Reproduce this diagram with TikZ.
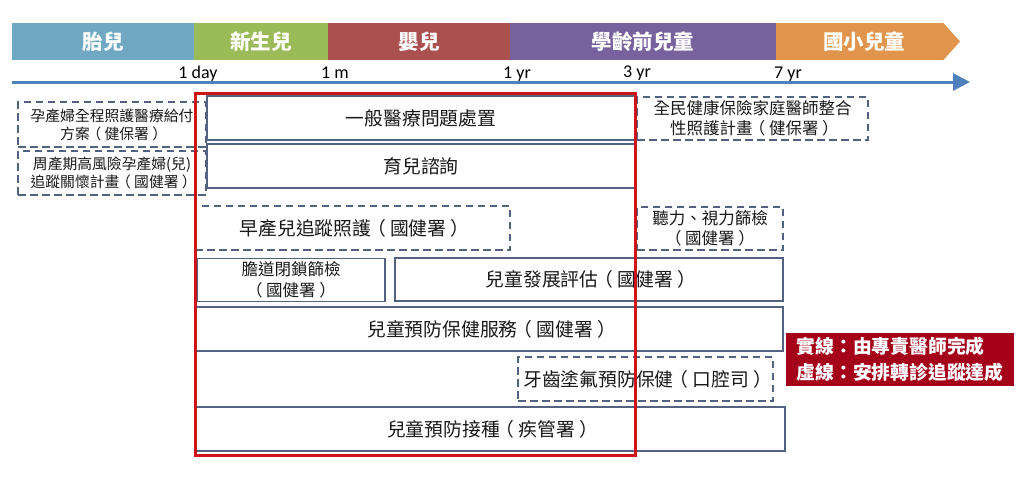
\documentclass[tikz,border=0pt]{standalone}
\usepackage{fontspec}
\setmainfont{Noto Sans CJK TC}
\newfontfamily\latfont{Carlito}
\usetikzlibrary{arrows.meta}
\definecolor{cA}{RGB}{112,168,196}
\definecolor{cB}{RGB}{155,187,89}
\definecolor{cC}{RGB}{170,80,78}
\definecolor{cD}{RGB}{120,98,158}
\definecolor{cE}{RGB}{224,148,76}
\definecolor{axisblue}{RGB}{79,129,189}
\definecolor{boxline}{RGB}{82,98,128}
\definecolor{redline}{RGB}{205,20,25}
\definecolor{legendred}{RGB}{165,0,25}
\definecolor{txt}{RGB}{25,25,25}
% fullwidth parentheses with centred ink
\newcommand\lp{\hbox to 1em{\kern-0.22em（\hss}}
\newcommand\rp{\hbox to 1em{\hss）\kern-0.22em}}
\tikzset{
  bar/.style={inner sep=0pt, text=white, minimum height=37pt, font=\fontsize{20.5}{23}\selectfont\bfseries},
  solidbox/.style={draw=boxline, line width=1.5pt, inner sep=0pt, text=txt, align=center},
  dashbox/.style={solidbox, line width=1.8pt, dash pattern=on 7.5pt off 4.5pt},
  bigtxt/.style={font=\fontsize{18.8}{22}\selectfont},
  smalltxt/.style={font=\fontsize{16.5}{20}\selectfont},
  tinytxt/.style={font=\fontsize{14.8}{18}\selectfont},
  tick/.style={anchor=base, inner sep=0pt, text=black, font=\latfont\fontsize{18}{20}\selectfont},
  axisline/.style={draw=axisblue, line width=3pt, -{Triangle[length=17pt,width=17pt]}},
  redframe/.style={draw=redline, line width=3pt, inner sep=0pt},
  legendbox/.style={fill=legendred, inner sep=0pt, text=white, align=left, font=\fontsize{18.8}{26}\selectfont\bfseries}
}
\begin{document}
\begin{tikzpicture}[x=1pt,y=-1pt]
\useasboundingbox (0,0) rectangle (1024,482);
\fill[white] (0,0) rectangle (1024,482);
% top phase bar
\node[bar, fill=cA, minimum width=182pt] (b1) at (103,41.5) {胎兒};
\node[bar, fill=cB, minimum width=134pt] (b2) at (261,41.5) {新生兒};
\node[bar, fill=cC, minimum width=182pt] (b3) at (419,41.5) {嬰兒};
\node[bar, fill=cD, minimum width=266pt] (b4) at (643,41.5) {學齡前兒童};
\node[bar, fill=cE, minimum width=167pt] (b5) at (859.5,41.5) {};
\coordinate (b5tip) at (960,41.5);
\fill[cE] (b5.north east) -- (b5tip) -- (b5.south east) -- cycle;
\node[bar] (b5t) at (864,41.5) {國小兒童};
% axis
\coordinate (axs) at (12,82);
\coordinate (axe) at (970,82);
\draw[axisline] (axs) -- (axe);
\node[tick] (t1) at (198,78) {1 day};
\node[tick] (t2) at (335,78) {1 m};
\node[tick] (t3) at (517,78) {1 yr};
\node[tick] (t4) at (637,77) {3 yr};
\node[tick] (t5) at (788,78) {7 yr};
% boxes
\node[dashbox, tinytxt, minimum width=188pt, minimum height=45pt] (preg) at (112,124.5) {孕產婦全程照護醫療給付\\方案\lp 健保署\rp};
\node[dashbox, tinytxt, minimum width=188pt, minimum height=44pt] (risk) at (112,173) {周產期高風險孕產婦(兒)\\追蹤關懷計畫\lp 國健署\rp};
\node[solidbox, bigtxt, minimum width=428pt, minimum height=44pt] (gen) at (421,118) {一般醫療問題處置};
\node[solidbox, bigtxt, minimum width=428pt, minimum height=44pt] (care) at (421,166) {育兒諮詢};
\node[dashbox, smalltxt, minimum width=231pt, minimum height=43pt] (fam) at (752.5,118.5) {全民健康保險家庭醫師整合\\性照護計畫\lp 健保署\rp};
\node[dashbox, bigtxt, minimum width=315pt, minimum height=44pt] (pre) at (352.5,228) {早產兒追蹤照護\lp 國健署\rp};
\node[dashbox, smalltxt, minimum width=146pt, minimum height=43pt] (hear) at (710,228.5) {聽力、視力篩檢\\\lp 國健署\rp};
\node[solidbox, smalltxt, minimum width=188pt, minimum height=43pt, font=\fontsize{16.5}{21.5}\selectfont] (bil) at (291,280) {膽道閉鎖篩檢\\\lp 國健署\rp};
\node[solidbox, bigtxt, minimum width=388pt, minimum height=43pt] (dev) at (589,279.5) {兒童發展評估\lp 國健署\rp};
\node[solidbox, bigtxt, minimum width=587pt, minimum height=44pt] (prev) at (489.5,329) {兒童預防保健服務\lp 國健署\rp};
\node[dashbox, bigtxt, minimum width=255pt, minimum height=44pt] (teeth) at (645.5,379) {牙齒塗氟預防保健\lp 口腔司\rp};
\node[solidbox, bigtxt, minimum width=589pt, minimum height=44pt] (vacc) at (490.5,429) {兒童預防接種\lp 疾管署\rp};
% red frame
\node[redframe, minimum width=440pt, minimum height=362pt] (red) at (415,274) {};
% legend
\node[legendbox, minimum width=228pt, minimum height=53pt] (legend) at (900,359.5) {實線：由專責醫師完成\\虛線：安排轉診追蹤達成};
\end{tikzpicture}
\end{document}
